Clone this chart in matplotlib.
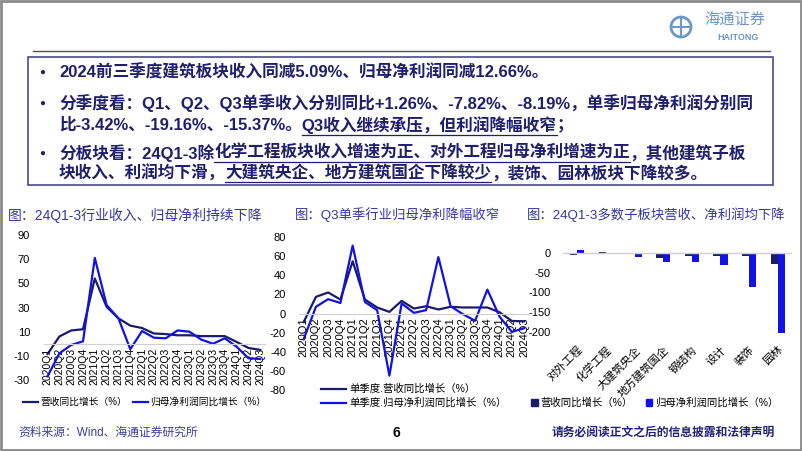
import numpy as np
import matplotlib.pyplot as plt
from matplotlib.patches import Rectangle, Circle, Patch
from matplotlib.lines import Line2D
from matplotlib.transforms import IdentityTransform

plt.rcParams['font.family'] = ['Liberation Sans', 'Noto Sans CJK SC']
plt.rcParams['axes.unicode_minus'] = False

# ---- data ----
quarters = ['2020Q1', '2020Q2', '2020Q3', '2020Q4', '2021Q1', '2021Q2', '2021Q3', '2021Q4',
            '2022Q1', '2022Q2', '2022Q3', '2022Q4', '2023Q1', '2023Q2', '2023Q3', '2023Q4',
            '2024Q1', '2024Q2', '2024Q3']
# cumulative YoY (%)
rev_cum = [-8.5, 6, 11, 12, 54, 30.5, 21, 15, 13, 8.5, 8, 7, 7, 6.3, 6.3, 6.3, 1.5, -3.5, -5.09]
np_cum = [-27, -8, -1, 2, 71, 32, 21, -4.5, 10.5, 5, 4.5, 11, 10, 3.5, 0, 4.5, -2.5, -12, -12.66]
# single quarter YoY (%)
rev_q = [-9, 17.4, 22, 14.6, 54.6, 14.6, 6.3, 1.7, 13.2, 5.2, 7.6, 4.2, 7, 6.3, 6.3, 6.3, 1.26, -7.82, -8.19]
np_q = [-27, 7, 15, 11, 71, 12, 3.5, -65, 10.5, 0.7, 3.5, 59, 7.6, -0.7, -7.6, 25, -3.42, -19.16, -15.37]
# sub-sectors 24Q1-3 (%)
sectors = ['对外工程', '化学工程', '大建筑央企', '地方建筑国企', '钢结构', '设计', '装饰', '园林']
sec_rev = [-6, 2, -4, -13, -8, -9, -7, -28]
sec_np = [7, -1, -10, -22, -24, -30, -87, -202]

NAVY = '#1b1b6b'
BLUE = '#1212e6'
TXT = '#1f1f6e'
TITLE = '#3535a5'
GRID = '#d0d0d0'
W, H = 802, 451
px = IdentityTransform()

fig = plt.figure(figsize=(W / 100, H / 100), dpi=100)


def rect(x0, y0, x1, y1):
    return [x0 / W, 1 - y1 / H, (x1 - x0) / W, (y1 - y0) / H]


def line_panel(pos, s1, s2, ylim, yticks, fs_x):
    ax = fig.add_axes(pos)
    for s in ['top', 'right', 'left']:
        ax.spines[s].set_visible(False)
    ax.spines['bottom'].set_position(('data', 0))
    ax.spines['bottom'].set_color(GRID)
    x = np.arange(len(quarters))
    ax.plot(x, s1, color=NAVY, lw=1.6)
    ax.plot(x, s2, color=BLUE, lw=1.6)
    ax.set_xlim(-0.3, len(quarters) - 0.6)
    ax.set_ylim(*ylim)
    ax.set_yticks(yticks)
    ax.set_xticks(x)
    ax.set_xticklabels(quarters, fontsize=fs_x)
    ax.tick_params(axis='x', length=0, pad=3, labelrotation=90)
    ax.tick_params(axis='y', length=0, pad=10, labelsize=8)
    ax.patch.set_alpha(0)
    return ax


# ---- chart 1 ----
ax1 = line_panel(rect(44, 235, 265, 380), rev_cum, np_cum, (-30, 90), np.arange(-30, 91, 20), 7.5)
fig.text(8 / W, 1 - 215 / H, '图：24Q1-3行业收入、归母净利持续下降', fontsize=10, color=TITLE, va='center')
fig.legend(handles=[Line2D([], [], color=NAVY, lw=1.6), Line2D([], [], color=BLUE, lw=1.6)],
           labels=['营收同比增长（%）', '归母净利润同比增长（%）'], ncol=2, frameon=False,
           fontsize=7, loc='center left', bbox_to_anchor=(14 / W, 1 - 402 / H),
           handlelength=1.6, handletextpad=0.2, columnspacing=0.6)

# ---- chart 2 ----
ax2 = line_panel(rect(300, 237, 529, 390), rev_q, np_q, (-80, 80), np.arange(-80, 81, 20), 8)
fig.text(295 / W, 1 - 215 / H, '图：Q3单季行业归母净利降幅收窄', fontsize=9.6, color=TITLE, va='center')
fig.legend(handles=[Line2D([], [], color=NAVY, lw=1.6), Line2D([], [], color=BLUE, lw=1.6)],
           labels=['单季度.营收同比增长（%）', '单季度.归母净利润同比增长（%）'], ncol=1, frameon=False,
           fontsize=7.5, loc='center left', bbox_to_anchor=(312 / W, 1 - 396 / H),
           handlelength=2.4, handletextpad=0.3, labelspacing=0.35)

# ---- chart 3 ----
ax3 = fig.add_axes(rect(563, 243, 792, 336))
xs = np.arange(len(sectors))
bw = 0.25
ax3.bar(xs - bw / 2, sec_rev, bw, color=NAVY)
ax3.bar(xs + bw / 2, sec_np, bw, color=BLUE)
ax3.axhline(0, color=GRID, lw=1)
ax3.set_xlim(-0.5, len(sectors) - 0.5)
ax3.set_ylim(-210, 25)
ax3.set_yticks([0, -50, -100, -150, -200])
ax3.set_xticks(xs)
ax3.set_xticklabels(sectors, rotation=45, ha='right', rotation_mode='anchor', fontsize=8)
for s in ax3.spines.values():
    s.set_visible(False)
ax3.tick_params(length=0)
ax3.tick_params(axis='y', pad=9, labelsize=8)
ax3.tick_params(axis='x', pad=6)
ax3.patch.set_alpha(0)
fig.text(527 / W, 1 - 215 / H, '图：24Q1-3多数子板块营收、净利润均下降', fontsize=9.6, color=TITLE, va='center')
fig.legend(handles=[Patch(color=NAVY), Patch(color=BLUE)],
           labels=['营收同比增长（%）', '归母净利润同比增长（%）'], ncol=2, frameon=False,
           fontsize=7.5, loc='center left', bbox_to_anchor=(522 / W, 1 - 403 / H),
           handlelength=0.6, handleheight=0.6, handletextpad=0.3, columnspacing=1.2)

# ---- header, text box, footer ----
fig.add_artist(Rectangle((1, 1), W - 2, H - 2, transform=px, fill=False, ec='#8a8a8a', lw=2))
fig.add_artist(Line2D([33, 770], [H - 51, H - 51], transform=px, color='#4a4a90', lw=1))
fig.add_artist(Rectangle((28, H - 185), 745, 128, transform=px, fill=False, ec='#4a4a95', lw=1.2))

LOGO = '#6a98c8'
fig.add_artist(Circle((681, H - 27), 10, transform=px, fill=False, ec=LOGO, lw=2))
fig.add_artist(Line2D([681, 681], [H - 37, H - 17], transform=px, color=LOGO, lw=1.5))
fig.add_artist(Line2D([672, 690], [H - 27, H - 27], transform=px, color=LOGO, lw=1.5))
fig.text(735, H - 21, '海通证券', transform=px, fontsize=11, color=LOGO, ha='center', va='center',
         style='italic')
fig.text(738, H - 37, 'HAITONG', transform=px, fontsize=6.5, color=LOGO, ha='center', va='center',
         fontweight='bold')

renderer = fig.canvas.get_renderer()
FS = 12


def text_line(x, y, parts):
    for s, under in parts:
        t = fig.text(x, H - y, s, transform=px, fontsize=FS, fontweight='bold', color=TXT, va='center')
        bb = t.get_window_extent(renderer)
        if under:
            fig.add_artist(Line2D([bb.x0, bb.x1], [bb.y0 - 1, bb.y0 - 1], transform=px, color=TXT, lw=0.9))
        x = bb.x1


bullets = [72, 103, 153]
for by in bullets:
    fig.text(42, H - by, '●', transform=px, fontsize=7, color=TXT, ha='center', va='center')

text_line(59, 72, [('2024前三季度建筑板块收入同减5.09%、归母净利润同减12.66%。', False)])
text_line(59, 103, [('分季度看：Q1、Q2、Q3单季收入分别同比+1.26%、-7.82%、-8.19%，单季归母净利润分别同', False)])
text_line(59, 125, [('比-3.42%、-19.16%、-15.37%。', False), ('Q3收入继续承压，但利润降幅收窄', True), ('；', False)])
text_line(59, 153, [('分板块看：24Q1-3除', False), ('化学工程板块收入增速为正、对外工程归母净利增速为正', True),
                    ('，其他建筑子板', False)])
text_line(59, 173, [('块收入、利润均下滑，', False), ('大建筑央企、地方建筑国企下降较少', True),
                    ('，装饰、园林板块下降较多。', False)])

fig.text(18, H - 433, '资料来源：Wind、海通证券研究所', transform=px, fontsize=8.5, color='#3d3d9e', va='center')
fig.text(396, H - 433, '6', transform=px, fontsize=10, fontweight='bold', color='black', ha='center', va='center')
fig.text(775, H - 433, '请务必阅读正文之后的信息披露和法律声明', transform=px, fontsize=8.5, fontweight='bold',
         color='#22227a', ha='right', va='center')

fig.savefig('out.png', dpi=100)
